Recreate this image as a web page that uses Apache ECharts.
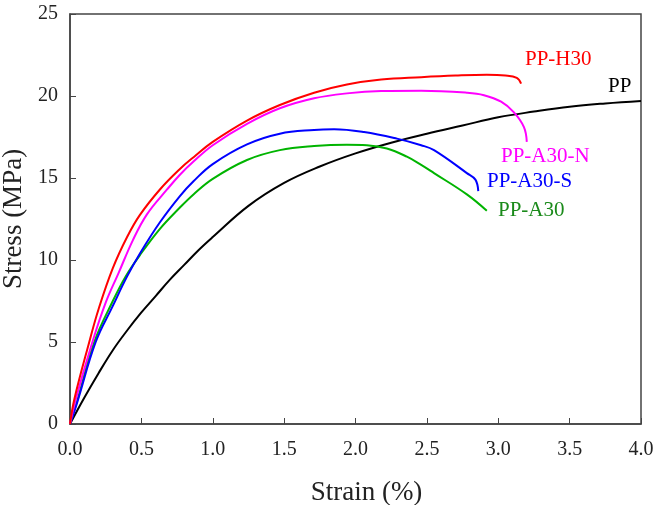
<!DOCTYPE html>
<html>
<head>
<meta charset="utf-8">
<script src="https://cdn.jsdelivr.net/npm/echarts@6/dist/echarts.min.js"></script>
<style>
  html, body { margin: 0; padding: 0; background: #fff; }
  #chart { width: 655px; height: 505px; }
</style>
</head>
<body>
<div id="chart"></div>
<script>
// strain (%), stress (MPa) pairs
const ppH30 = [[0, 0], [0.03, 1.5], [0.135, 5], [0.2, 7.0], [0.3, 9.5], [0.4, 11.4], [0.49, 12.75], [0.63, 14.3], [0.77, 15.55], [0.87, 16.3], [1.0, 17.2], [1.24, 18.5], [1.47, 19.45], [1.71, 20.2], [1.94, 20.7], [2.18, 21.0], [2.46, 21.15], [2.7, 21.25], [2.92, 21.3], [3.05, 21.25], [3.13, 21.1], [3.16, 20.75]]
const ppA30N = [[0, 0], [0.04, 1.5], [0.157, 5], [0.25, 7.4], [0.34, 9.2], [0.44, 11.2], [0.54, 12.8], [0.68, 14.3], [0.77, 15.2], [0.865, 16.0], [1.0, 17.0], [1.24, 18.3], [1.47, 19.25], [1.71, 19.86], [1.94, 20.16], [2.18, 20.3], [2.46, 20.32], [2.78, 20.2], [2.9, 20.05], [3.02, 19.65], [3.11, 19.0], [3.18, 18.1], [3.2, 17.2]]
const ppA30S = [[0, 0], [0.05, 1.3], [0.18, 5], [0.3, 7.2], [0.4, 9.0], [0.49, 10.4], [0.63, 12.3], [0.77, 13.9], [0.865, 14.8], [1.0, 15.85], [1.24, 17.05], [1.47, 17.7], [1.71, 17.93], [1.85, 17.97], [2.06, 17.8], [2.29, 17.4], [2.46, 17.0], [2.55, 16.7], [2.78, 15.3], [2.84, 14.9], [2.86, 14.2]]
const ppA30 = [[0, 0], [0.05, 1.4], [0.17, 5], [0.3, 7.5], [0.39, 9.0], [0.49, 10.3], [0.63, 11.9], [0.77, 13.2], [0.865, 14.0], [1.0, 14.95], [1.24, 16.1], [1.47, 16.7], [1.71, 16.95], [1.94, 17.03], [2.08, 17.0], [2.22, 16.8], [2.36, 16.3], [2.46, 15.8], [2.55, 15.3], [2.78, 14.0], [2.92, 13.0]]
const pp = [[0, 0], [0.1, 1.6], [0.2, 3.1], [0.3, 4.5], [0.4, 5.7], [0.5, 6.8], [0.6, 7.8], [0.7, 8.8], [0.8, 9.7], [0.9, 10.6], [1.0, 11.4], [1.25, 13.3], [1.5, 14.7], [1.75, 15.7], [2.0, 16.5], [2.25, 17.15], [2.5, 17.7], [2.75, 18.2], [3.0, 18.7], [3.25, 19.05], [3.5, 19.35], [3.75, 19.55], [4.0, 19.7]]

const font = 'Liberation Serif, Times New Roman, serif'

const chart = echarts.init(document.getElementById('chart'))

function line (name, data, color) {
  return {
    name: name,
    type: 'line',
    data: data,
    smooth: 0.4,
    symbol: 'none',
    lineStyle: { color: color, width: 2 }
  }
}

function label (text, x, y, color) {
  return {
    type: 'text',
    x: x,
    y: y,
    style: { text: text, fill: color, font: '21px ' + font, align: 'left', verticalAlign: 'middle' }
  }
}

const option = {
  animation: false,
  grid: {
    left: 70,
    right: 14,
    top: 14,
    bottom: 81,
    outerBoundsMode: 'none',
    show: true,
    borderColor: '#444',
    borderWidth: 1.5
  },
  xAxis: {
    type: 'value',
    min: 0,
    max: 4,
    interval: 0.5,
    name: 'Strain (%)',
    nameLocation: 'middle',
    nameGap: 55,
    nameTextStyle: { fontFamily: font, fontSize: 27, color: '#222', padding: [0, 0, 0, 22] },
    axisLine: { lineStyle: { color: '#444', width: 1.5 } },
    axisTick: { inside: true, length: 6, lineStyle: { color: '#444' } },
    axisLabel: { fontFamily: font, fontSize: 20, color: '#222', margin: 16, formatter: v => v.toFixed(1) },
    splitLine: { show: false }
  },
  yAxis: {
    type: 'value',
    min: 0,
    max: 25,
    interval: 5,
    name: 'Stress (MPa)',
    nameLocation: 'middle',
    nameGap: 33,
    nameTextStyle: { fontFamily: font, fontSize: 27, color: '#222' },
    axisLine: { show: true, lineStyle: { color: '#444', width: 1.5 } },
    axisTick: { show: true, inside: true, length: 6, lineStyle: { color: '#444' } },
    axisLabel: { fontFamily: font, fontSize: 20, color: '#222', margin: 12 },
    splitLine: { show: false }
  },
  series: [
    line('PP', pp, '#000000'),
    line('PP-A30', ppA30, '#00b400'),
    line('PP-A30-S', ppA30S, '#0000ff'),
    line('PP-A30-N', ppA30N, '#ff00ff'),
    line('PP-H30', ppH30, '#ff0000')
  ],
  graphic: [
    label('PP-H30', 525, 59, '#ff0000'),
    label('PP', 608, 86, '#000000'),
    label('PP-A30-N', 501, 156, '#ff00ff'),
    label('PP-A30-S', 487, 181, '#0000ff'),
    label('PP-A30', 498, 210, '#1a8a1a')
  ]
}

chart.setOption(option)
window.addEventListener('resize', function () {
  chart.resize()
})
</script>
</body>
</html>
